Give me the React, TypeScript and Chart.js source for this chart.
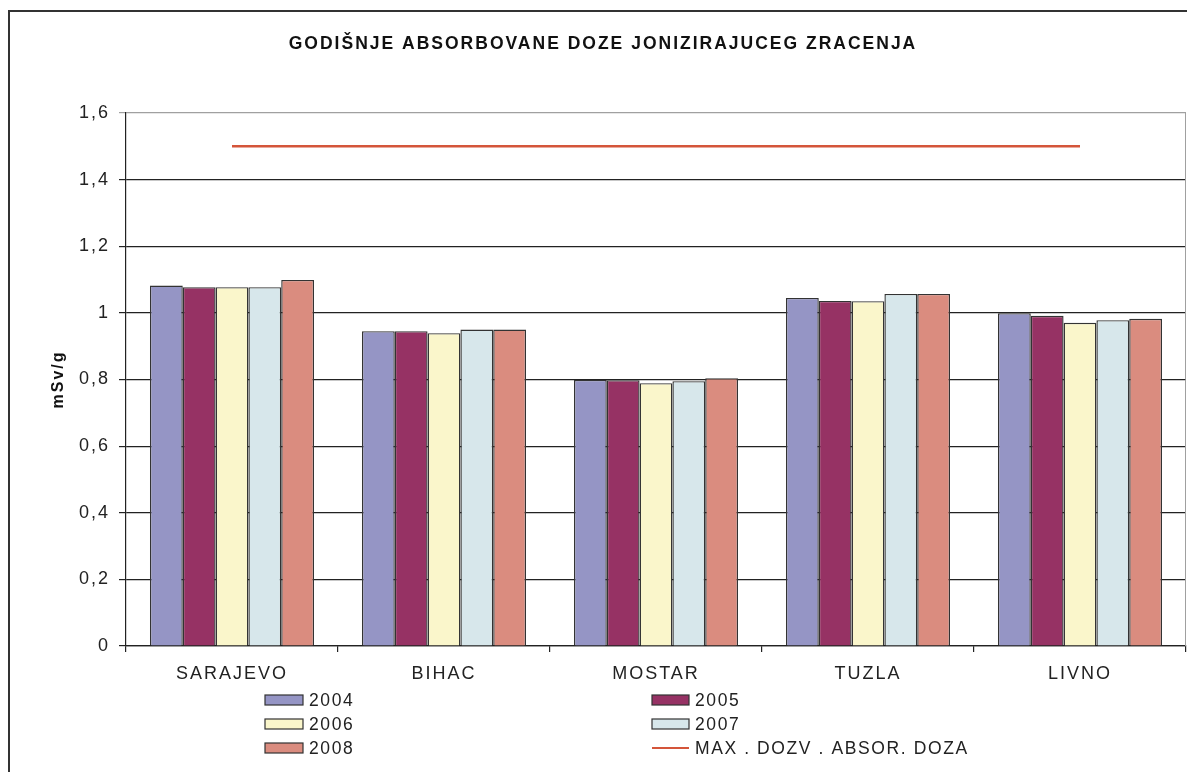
import React, { useEffect, useRef } from "react";
import { Chart, registerables } from "chart.js";

Chart.register(...registerables);

const categories = ["SARAJEVO", "BIHAC", "MOSTAR", "TUZLA", "LIVNO"];
const years = ["2004", "2005", "2006", "2007", "2008"];
const v2004 = [1.082, 0.945, 0.799, 1.045, 0.999];
const v2005 = [1.077, 0.945, 0.798, 1.036, 0.991];
const v2006 = [1.077, 0.939, 0.789, 1.035, 0.97];
const v2007 = [1.077, 0.95, 0.795, 1.057, 0.978];
const v2008 = [1.099, 0.95, 0.804, 1.057, 0.982];
const maxDose = [1.5, 1.5, 1.5, 1.5, 1.5];
const maxLabel = "MAX . DOZV . ABSOR. DOZA";
const chartTitle = "GODIŠNJE ABSORBOVANE DOZE JONIZIRAJUCEG ZRACENJA";
const yTitle = "mSv/g";
const yMin = 0;
const yMax = 1.6;
const yStep = 0.2;

const barColors = ["#9595c5", "#963264", "#faf6cb", "#d7e7eb", "#da8c7f"];
const lineColor = "#d4553a";
const FONT = "'Liberation Sans', Arial, sans-serif";

const extrasPlugin = {
  id: "extras",
  beforeDraw(chart: any) {
    chart.ctx.letterSpacing = "2px";
  },
  afterDraw(chart: any) {
    const { ctx, chartArea } = chart;
    ctx.save();
    ctx.letterSpacing = "1.6px";
    // right plot border
    ctx.strokeStyle = "#a0a0a0";
    ctx.lineWidth = 1;
    ctx.beginPath();
    ctx.moveTo(chartArea.right - 0.5, chartArea.top);
    ctx.lineTo(chartArea.right - 0.5, chartArea.bottom);
    ctx.stroke();

    // legend in two columns
    const colX = [265, 652];
    const boxW = [38, 37];
    const rowY = [700, 724, 748];
    ctx.font = `17.5px ${FONT}`;
    ctx.textBaseline = "middle";
    ctx.textAlign = "left";
    chart.data.datasets.forEach((ds: any, i: number) => {
      const col = i % 2;
      const row = Math.floor(i / 2);
      const x = colX[col];
      const y = rowY[row];
      const w = boxW[col];
      if (ds.type === "line") {
        ctx.strokeStyle = ds.borderColor;
        ctx.lineWidth = 2;
        ctx.beginPath();
        ctx.moveTo(x, y);
        ctx.lineTo(x + w, y);
        ctx.stroke();
      } else {
        ctx.fillStyle = ds.backgroundColor;
        ctx.fillRect(x, y - 5, w, 10);
        ctx.strokeStyle = "#333";
        ctx.lineWidth = 1.2;
        ctx.strokeRect(x, y - 5, w, 10);
      }
      ctx.fillStyle = "#222";
      ctx.fillText(ds.label, x + w + 6, y + 1);
    });
    ctx.restore();
  },
};

export default function App() {
  const ref = useRef<HTMLCanvasElement | null>(null);

  useEffect(() => {
    if (!ref.current) return;
    const series = [v2004, v2005, v2006, v2007, v2008];
    const datasets: any[] = series.map((vals, i) => ({
      type: "bar",
      label: years[i],
      data: vals,
      backgroundColor: barColors[i],
      borderColor: "#333",
      borderWidth: 1.4,
      categoryPercentage: 0.774,
      barPercentage: 1,
      order: 2,
    }));
    datasets.push({
      type: "line",
      label: maxLabel,
      data: maxDose,
      borderColor: lineColor,
      backgroundColor: lineColor,
      borderWidth: 2.4,
      pointRadius: 0,
      fill: false,
      order: 1,
    });

    const fmt = (v: number) => {
      const r = Math.round(v * 10) / 10;
      return Number.isInteger(r) ? String(r) : r.toFixed(1).replace(".", ",");
    };

    const chart = new Chart(ref.current, {
      type: "bar",
      data: { labels: categories, datasets },
      plugins: [extrasPlugin],
      options: {
        animation: false,
        responsive: false,
        devicePixelRatio: 1,
        layout: { padding: { left: 20, right: 1, top: 0, bottom: 0 } },
        plugins: {
          legend: { display: false },
          tooltip: { enabled: false },
          title: {
            display: true,
            text: chartTitle,
            color: "#111",
            font: { family: FONT, size: 17.5, weight: "bold" },
            padding: { top: 34, bottom: 58 },
          },
        },
        scales: {
          x: {
            offset: true,
            grid: {
              display: true,
              drawOnChartArea: false,
              drawTicks: true,
              tickLength: 6,
              color: "#222",
              lineWidth: 1.2,
            },
            border: { display: true, color: "#222", width: 1.2 },
            ticks: {
              color: "#222",
              font: { family: FONT, size: 18 },
              padding: 11,
              maxRotation: 0,
              autoSkip: false,
            },
            afterFit(scale: any) {
              scale.height = 126;
            },
          },
          y: {
            min: yMin,
            max: yMax,
            grid: {
              color: (c: any) => (c.tick && Math.abs(c.tick.value - yMax) < 1e-6 ? "#a0a0a0" : "#222"),
              lineWidth: 1.2,
              tickLength: 7,
              drawTicks: true,
            },
            border: { display: true, color: "#222", width: 1.2 },
            ticks: {
              stepSize: yStep,
              color: "#222",
              font: { family: FONT, size: 18 },
              padding: 9,
              callback: (v: any) => fmt(Number(v)),
            },
            title: {
              display: true,
              text: yTitle,
              color: "#111",
              font: { family: FONT, size: 16, weight: "bold" },
              padding: { top: 29, bottom: 0 },
            },
            afterFit(scale: any) {
              scale.width = 106;
            },
          },
        },
      } as any,
    });
    return () => chart.destroy();
  }, []);

  return (
    <div
      style={{
        position: "fixed",
        left: 0,
        top: 0,
        width: 1187,
        height: 772,
        overflow: "hidden",
        background: "#fff",
      }}
    >
      <canvas ref={ref} width={1187} height={772} style={{ display: "block" }} />
      <div
        style={{
          position: "absolute",
          left: 8,
          top: 10,
          width: 1400,
          height: 1000,
          borderLeft: "2px solid #333",
          borderTop: "2px solid #333",
          pointerEvents: "none",
        }}
      />
    </div>
  );
}
